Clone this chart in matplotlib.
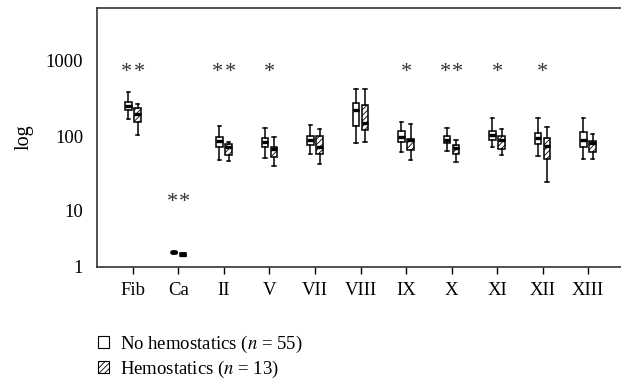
import numpy as np
from matplotlib import pyplot as plt
from matplotlib.patches import Patch

plt.rcParams['font.family'] = ['Liberation Serif', 'DejaVu Serif']
plt.rcParams['mathtext.fontset'] = 'stix'
plt.rcParams['hatch.linewidth'] = 0.6

cats = ['Fib', 'Ca', 'II', 'V', 'VII', 'VIII', 'IX', 'X', 'XI', 'XII', 'XIII']

# whisker low, q1, median, q3, whisker high
no_hemo = [
    [171, 225, 253, 289, 390],
    [2.0, 2.07, 2.11, 2.16, 2.2],
    [49, 74, 88, 98, 138],
    [52, 74, 86, 96, 131],
    [59, 79, 91, 103, 143],
    [83, 140, 223, 280, 420],
    [63, 85, 100, 119, 156],
    [65, 83, 92, 103, 130],
    [73, 92, 105, 120, 175],
    [55, 80, 95, 112, 176],
    [50, 74, 90, 116, 178],
]
hemo = [
    [104, 155, 199, 236, 267],
    [1.75, 1.79, 1.9, 2.02, 2.05],
    [47, 58, 73, 80, 86],
    [41, 54, 68, 74, 98],
    [43, 60, 74, 101, 127],
    [86, 123, 153, 259, 423],
    [49, 67, 90, 94, 147],
    [46, 60, 70, 79, 92],
    [57, 69, 90, 103, 126],
    [25, 51, 75, 95, 134],
    [51, 62, 84, 89, 110],
]
# number of asterisks per factor and where they sit
stars = [2, 2, 2, 1, 0, 0, 1, 2, 1, 1, 0]
stars_y = [700, 13, 700, 700, 700, 700, 700, 700, 700, 700, 700]

def stats(rows):
    keys = ['whislo', 'q1', 'med', 'q3', 'whishi']
    return [dict(zip(keys, r), fliers=[]) for r in rows]

fig = plt.figure(figsize=(6.21, 3.83), dpi=100)
ax = fig.add_axes([0.1562, 0.3029, 0.8438, 0.677])

ax.set_yscale('function', functions=(lambda v: np.log10(np.clip(v, -0.999, None) + 1),
                                     lambda u: 10 ** u - 1))

x = np.arange(len(cats))
w = 0.15
common = dict(widths=w, patch_artist=True, showfliers=False, manage_ticks=False,
              capwidths=0.07,
              whiskerprops=dict(color='black', lw=1.1),
              capprops=dict(color='black', lw=1.1),
              medianprops=dict(color='black', lw=2.4))

ax.bxp(stats(no_hemo), positions=x - 0.1,
       boxprops=dict(facecolor='white', edgecolor='black', lw=1.1), **common)
ax.bxp(stats(hemo), positions=x + 0.1,
       boxprops=dict(facecolor='white', edgecolor='black', lw=1.1, hatch='//////'), **common)

for xi, n, yv in zip(x, stars, stars_y):
    for k in range(n):
        ax.annotate('*', (xi, yv), xytext=((k - (n - 1) / 2) * 9, 0),
                    textcoords='offset points', ha='center', va='center',
                    fontsize=16, color='#333333')

ax.set_xlim(-0.791, 10.725)
ax.set_ylim(1, 4930)
ax.set_xticks(x)
ax.set_xticklabels(cats)
ax.set_yticks([1, 10, 100, 1000])
ax.set_yticklabels(['1', '10', '100', '1000'])
ax.yaxis.set_minor_locator(plt.NullLocator())
ax.tick_params(axis='x', length=5, width=1, labelsize=13.5, pad=6)
ax.tick_params(axis='y', length=0, labelsize=13.5, pad=10)
ax.spines['right'].set_visible(False)
for sp in ['left', 'top', 'bottom']:
    ax.spines[sp].set_linewidth(1.2)
    ax.spines[sp].set_color('#333333')
ax.set_ylabel('log', fontsize=14.5, labelpad=9)

handles = [Patch(facecolor='white', edgecolor='black', lw=0.8),
           Patch(facecolor='white', edgecolor='black', lw=0.8, hatch='//////')]
fig.legend(handles, ['No hemostatics ($n$ = 55)', 'Hemostatics ($n$ = 13)'],
           loc='upper left', bbox_to_anchor=(0.143, 0.153), frameon=False,
           fontsize=13.5, handlelength=0.6, handleheight=0.6, handletextpad=0.55,
           labelspacing=0.2, borderpad=0)

fig.savefig('out.png', dpi=100)
